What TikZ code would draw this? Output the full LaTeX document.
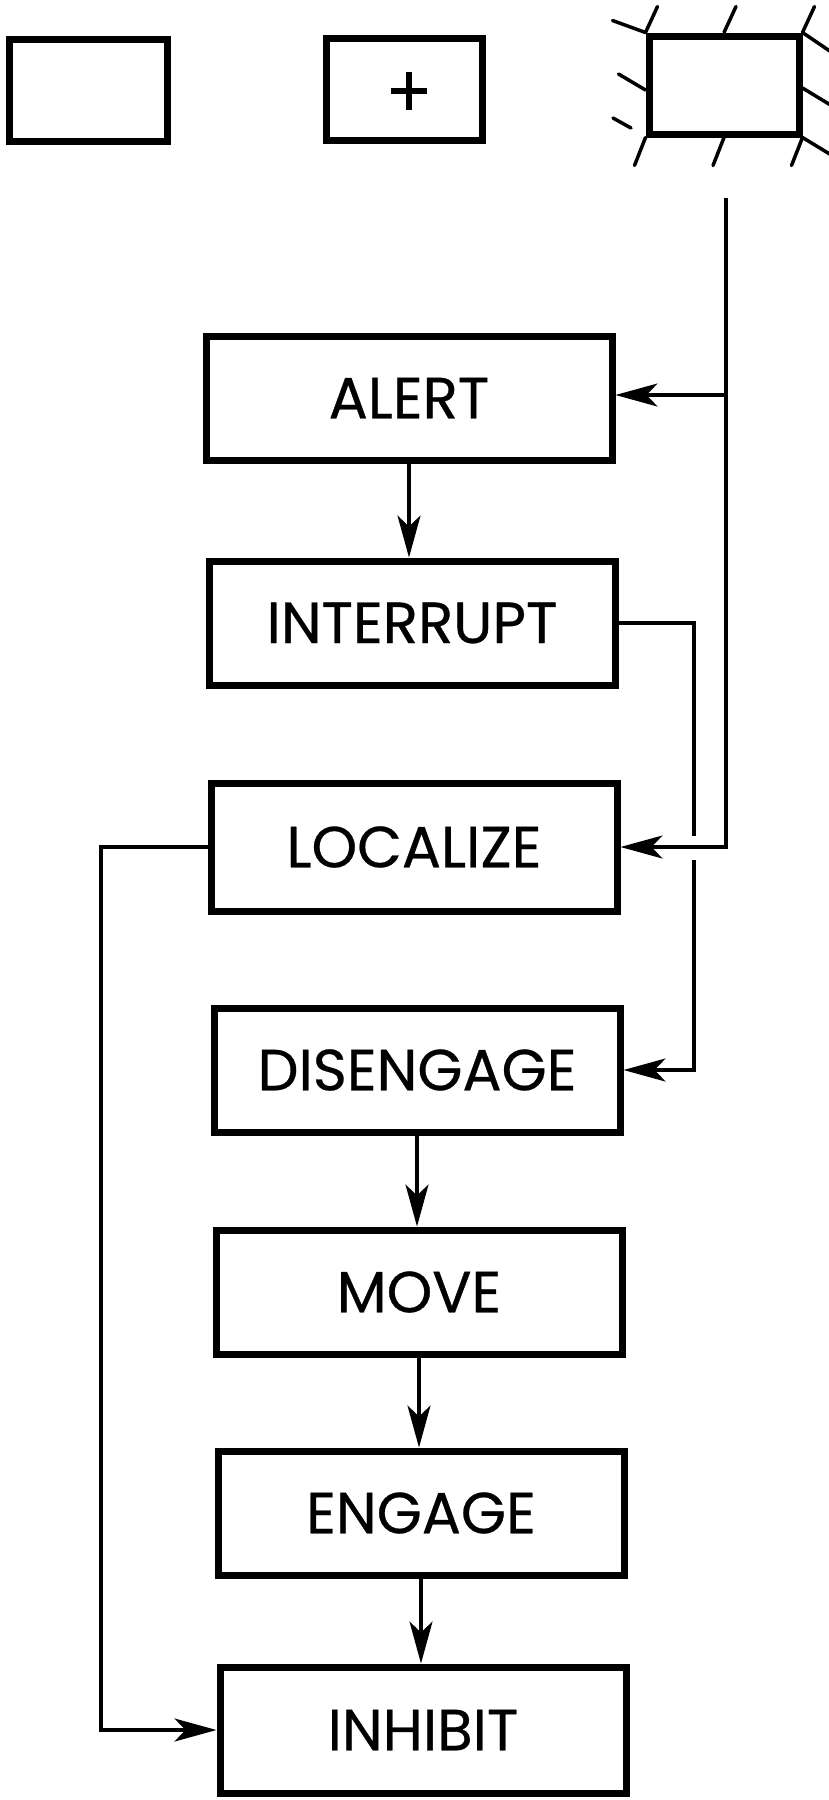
\documentclass[tikz,border=0pt]{standalone}
\usepackage{fontspec}
\newfontfamily\labelfont[FakeBold=0.5]{Poppins}
\usetikzlibrary{arrows.meta}
\begin{document}
\begin{tikzpicture}[x=1pt,y=-1pt,
  box/.style={draw,line width=7pt,minimum width=406pt,minimum height=124pt,inner sep=0pt,
    font=\labelfont\fontsize{58}{58}\selectfont},
  sym/.style={draw,line width=7pt,inner sep=0pt},
  hatch/.style={line width=3.5pt,line cap=round},
  conn/.style={line width=3.2pt},
  arr/.style={conn,-{Stealth[length=42pt,width=23pt,inset=11pt]}}]
\useasboundingbox (0,0) rectangle (828,1800);
% top symbols
\node[sym,minimum width=158pt,minimum height=102pt] (s1) at (88,90) {};
\node[sym,minimum width=156pt,minimum height=102pt] (s2) at (404,89) {};
\draw[line width=5.5pt] (391,91) -- (427,91) (409,72) -- (409,110);
\node[sym,minimum width=150pt,minimum height=98pt] (s3) at (724,85) {};
\draw[hatch] (s3.north west) -- ++(12,-26) (s3.north) -- ++(12,-26) (s3.north east) -- ++(12,-26);
\draw[hatch] (s3.south west) -- ++(-11,28) (s3.south) -- ++(-11,28) (s3.south east) -- ++(-11,28);
\draw[hatch] (s3.north west) -- ++(-33,-12) (s3.west) ++(0,5) -- ++(-27,-16) (613,118) -- (631,128);
\draw[hatch] (s3.north east) -- ++(28,19) (s3.east) ++(0,3) -- ++(28,17) (s3.south east) -- ++(28,17);
% flow boxes
\node[box] (alert) at (409,398) {ALERT};
\node[box] (interrupt) at (412,623) {INTERRUPT};
\node[box,minimum height=128pt] (localize) at (414,847) {LOCALIZE};
\node[box] (disengage) at (417,1070) {DISENGAGE};
\node[box] (move) at (419,1292) {MOVE};
\node[box] (engage) at (421,1513) {ENGAGE};
\node[box,minimum height=126pt] (inhibit) at (423,1730) {INHIBIT};
% connectors
\coordinate (src) at (726,198);
\coordinate (j1) at (726,395);
\draw[arr] (src) |- (localize.east);
\draw[arr] (j1) -- (j1 -| alert.east);
\draw[arr] (alert.south) -- (alert.south |- interrupt.north);
\coordinate (g1) at (694,836);
\coordinate (g2) at (694,860);
\draw[conn] (interrupt.east) -| (g1);
\draw[arr] (g2) |- (disengage.east);
\draw[arr] (disengage.south) -- (disengage.south |- move.north);
\draw[arr] (move.south) -- (move.south |- engage.north);
\draw[arr] (engage.south) -- (engage.south |- inhibit.north);
\coordinate (lft) at (101,1300);
\draw[arr] (localize.west) -| (lft) |- (inhibit.west);
\end{tikzpicture}
\end{document}
